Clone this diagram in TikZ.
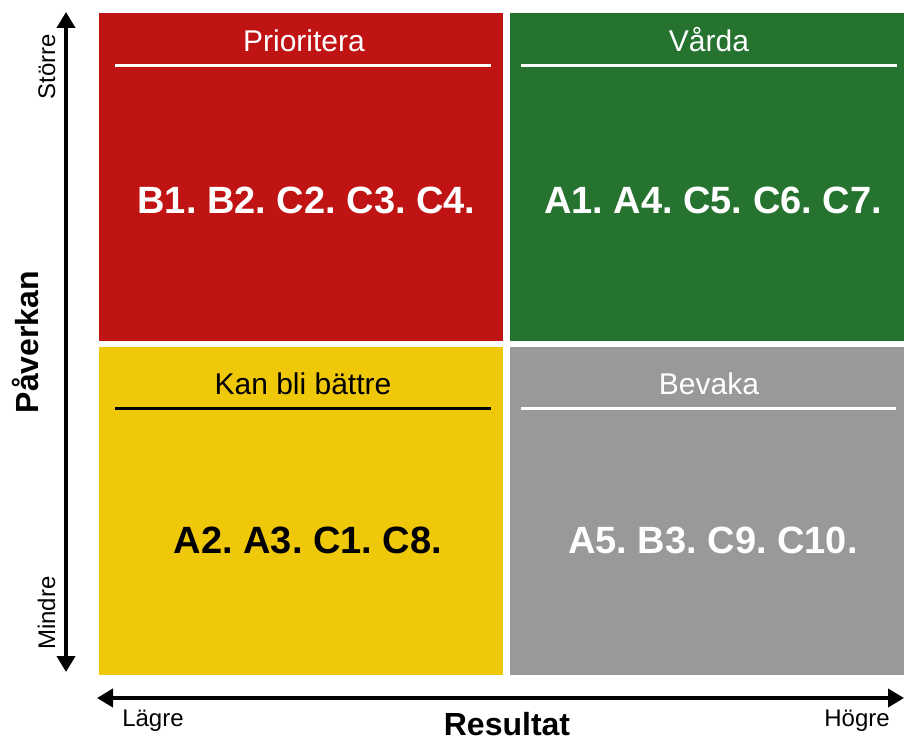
\documentclass[tikz,border=0pt]{standalone}
\usepackage{fontspec}
\setmainfont{Liberation Sans}
\usetikzlibrary{arrows.meta}
\definecolor{qred}{HTML}{C01414}
\definecolor{qgreen}{HTML}{267330}
\definecolor{qyellow}{HTML}{F0C80A}
\definecolor{qgray}{HTML}{999999}
\tikzset{
  quad/.style={anchor=north west,inner sep=0pt,outer sep=0pt,minimum height=328pt},
  qtitle/.style={anchor=base,inner sep=0pt,font=\fontsize{30}{32}\selectfont},
  qlabel/.style={anchor=base,inner sep=0pt,font=\frenchspacing\bfseries\fontsize{38}{40}\selectfont},
  axtitle/.style={anchor=base,inner sep=0pt,font=\bfseries\fontsize{32}{34}\selectfont},
  axend/.style={anchor=base,inner sep=0pt,font=\fontsize{24}{26}\selectfont},
  sep/.style={line width=3pt},
  axis/.style={line width=4.5pt,{Triangle[width=18pt,length=16pt]}-{Triangle[width=18pt,length=16pt]}}
}
\begin{document}
\frenchspacing
\begin{tikzpicture}[x=1pt,y=-1pt]
\useasboundingbox (0,0) rectangle (904,741);
% quadrants
\node[quad,fill=qred,minimum width=404pt] (red) at (99,13) {};
\node[quad,fill=qgreen,minimum width=394pt] (green) at (510,13) {};
\node[quad,fill=qyellow,minimum width=404pt] (yellow) at (99,347) {};
\node[quad,fill=qgray,minimum width=394pt] (gray) at (510,347) {};
% titles
\node[qtitle,text=white] (tred) at (304,52) {Prioritera};
\node[qtitle,text=white] (tgreen) at (709,52) {Vårda};
\node[qtitle,text=black] (tyellow) at (303,394) {Kan bli bättre};
\node[qtitle,text=white] (tgray) at (709,394) {Bevaka};
% separator lines
\coordinate (r1) at (115,66); \coordinate (r2) at (491,66);
\coordinate (g1) at (521,66); \coordinate (g2) at (897,66);
\coordinate (y1) at (115,408); \coordinate (y2) at (491,408);
\coordinate (s1) at (521,408); \coordinate (s2) at (896,408);
\draw[sep,white] (r1) -- (r2);
\draw[sep,white] (g1) -- (g2);
\draw[sep,black] (y1) -- (y2);
\draw[sep,white] (s1) -- (s2);
% labels
\node[qlabel,text=white] (lred) at (306.5,213) {B1. B2. C2. C3. C4.};
\node[qlabel,text=white] (lgreen) at (713,213) {A1. A4. C5. C6. C7.};
\node[qlabel,text=black] (lyellow) at (308,553) {A2. A3. C1. C8.};
\node[qlabel,text=white] (lgray) at (713,553) {A5. B3. C9. C10.};
% axes
\coordinate (vtop) at (66,12); \coordinate (vbot) at (66,672);
\coordinate (hleft) at (97,698); \coordinate (hright) at (904,698);
\draw[axis] (vbot) -- (vtop);
\draw[axis] (hleft) -- (hright);
\node[axtitle,rotate=90] (pav) at (38,342) {Påverkan};
\node[axtitle] (res) at (507,735) {Resultat};
\node[axend,rotate=90] (storre) at (55,67) {Större};
\node[axend,rotate=90] (mindre) at (55,613) {Mindre};
\node[axend] (lagre) at (153,726) {Lägre};
\node[axend] (hogre) at (857,726) {Högre};
\end{tikzpicture}
\end{document}
